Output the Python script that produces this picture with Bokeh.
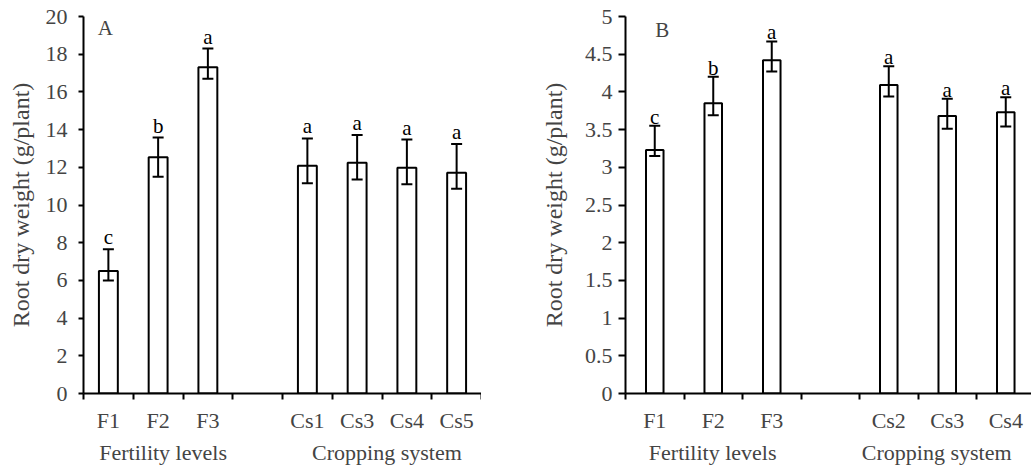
from bokeh.plotting import figure
from bokeh.layouts import row
from bokeh.models import (ColumnDataSource, FixedTicker, Range1d, LinearAxis,
                          Whisker, TeeHead, Label, NumeralTickFormatter)
from bokeh.core.properties import value
from bokeh.embed import file_html
from bokeh.resources import INLINE

# ---------------- data ----------------
# Panel A (empty string = empty slot on the axis)
a_categories = ["F1", "F2", "F3", "", "Cs1", "Cs3", "Cs4", "Cs5"]
a_means = [6.5, 12.53, 17.31, 12.08, 12.24, 11.98, 11.71]
a_upper = [7.65, 13.58, 18.3, 13.53, 13.72, 13.47, 13.23]
a_lower = [6.0, 11.5, 16.7, 11.15, 11.35, 11.1, 10.86]
a_letters = ["c", "b", "a", "a", "a", "a", "a"]
a_yticks = [0, 2, 4, 6, 8, 10, 12, 14, 16, 18, 20]

# Panel B
b_categories = ["F1", "F2", "F3", "", "Cs2", "Cs3", "Cs4"]
b_means = [3.23, 3.85, 4.42, 4.09, 3.68, 3.73]
b_upper = [3.55, 4.2, 4.67, 4.34, 3.91, 3.93]
b_lower = [3.15, 3.69, 4.27, 3.94, 3.51, 3.54]
b_letters = ["c", "b", "a", "a", "a", "a"]
b_yticks = [0, 0.5, 1, 1.5, 2, 2.5, 3, 3.5, 4, 4.5, 5]

group_titles = ["Fertility levels", "Cropping system"]
y_title = "Root dry weight (g/plant)"

FONT = "Liberation Serif"


def panel(cats, means, upper, lower, letters, yticks, ymax, xend, panel_tag,
          tag_pos, group_pos, width, border_left, border_top, border_bottom,
          bar_w, cap, letter_off, ytick_len, ylabel_standoff, title_standoff):
    slots = [i for i, c in enumerate(cats) if c != ""]
    xs = [i + 0.5 for i in slots]
    src = ColumnDataSource(dict(x=xs, top=means, upper=upper, lower=lower,
                                letter=letters))
    p = figure(width=width, height=474, output_backend="svg",
               toolbar_location=None, x_range=Range1d(0, xend),
               y_range=Range1d(0, ymax), min_border_left=border_left,
               min_border_right=0, min_border_top=border_top,
               min_border_bottom=border_bottom)
    p.outline_line_color = None
    p.grid.visible = False
    p.background_fill_color = "white"
    p.border_fill_color = "white"

    p.vbar(x="x", top="top", bottom=0, width=bar_w, source=src,
           fill_color="white", line_color="black", line_width=2)
    w = Whisker(base="x", upper="upper", lower="lower", source=src,
                line_color="black", line_width=2, level="overlay",
                upper_head=TeeHead(size=cap, line_width=2, line_color="black"),
                lower_head=TeeHead(size=cap, line_width=2, line_color="black"))
    p.add_layout(w)
    p.text(x="x", y="upper", text="letter", source=src,
           text_font=value(FONT), text_font_size="21px", text_color="black",
           text_align="center", text_baseline="alphabetic", y_offset=letter_off)

    p.add_layout(Label(x=tag_pos[0], y=tag_pos[1], text=panel_tag,
                       text_font=FONT, text_font_size="21px",
                       text_align="center", text_baseline="alphabetic"))

    # y axis
    ya = p.yaxis[0]
    ya.ticker = FixedTicker(ticks=yticks)
    ya.formatter = NumeralTickFormatter(format="0.[0]")
    ya.axis_line_width = 2
    ya.major_tick_line_width = 2
    ya.major_tick_in = 0
    ya.major_tick_out = ytick_len
    ya.minor_tick_line_color = None
    ya.major_label_text_font = FONT
    ya.major_label_text_font_size = "22px"
    ya.major_label_standoff = ylabel_standoff
    ya.axis_label = y_title
    ya.axis_label_text_font = FONT
    ya.axis_label_text_font_size = "24px"
    ya.axis_label_text_font_style = "normal"
    ya.axis_label_standoff = title_standoff

    # x axis: boundary ticks as minor ticks, category labels at centres
    xa = p.xaxis[0]
    bounds = list(range(len(cats) + 1))
    xa.ticker = FixedTicker(ticks=xs, minor_ticks=bounds)
    xa.major_label_overrides = {x: cats[i] for x, i in zip(xs, slots)}
    xa.axis_line_width = 2
    xa.major_tick_in = 0
    xa.major_tick_out = 0
    xa.major_tick_line_color = None
    xa.minor_tick_in = 0
    xa.minor_tick_out = 6
    xa.minor_tick_line_width = 2
    xa.minor_tick_line_color = "black"
    xa.major_label_text_font = FONT
    xa.major_label_text_font_size = "22px"
    xa.major_label_standoff = 8

    # group titles on a second, line-less axis below the category labels
    ga = LinearAxis(ticker=FixedTicker(ticks=group_pos, minor_ticks=[]))
    ga.major_label_overrides = {g: t for g, t in zip(group_pos, group_titles)}
    ga.axis_line_color = None
    ga.major_tick_line_color = None
    ga.minor_tick_line_color = None
    ga.major_tick_in = 0
    ga.major_tick_out = 0
    ga.major_label_text_font = FONT
    ga.major_label_text_font_size = "22px"
    ga.major_label_standoff = 4
    p.add_layout(ga, "below")
    return p


pa = panel(a_categories, a_means, a_upper, a_lower, a_letters, a_yticks, 20,
           len(a_categories), "A", (0.44, 19.4), [1.6, 6.1],
           width=481, border_left=83, border_top=14, border_bottom=81,
           bar_w=0.38, cap=11, letter_off=-12, ytick_len=5,
           ylabel_standoff=11, title_standoff=9)
pb = panel(b_categories, b_means, b_upper, b_lower, b_letters, b_yticks, 5,
           6.94, "B", (0.63, 4.82), [1.49, 5.32],
           width=550, border_left=144, border_top=16, border_bottom=78,
           bar_w=0.30, cap=11, letter_off=-9, ytick_len=7,
           ylabel_standoff=6, title_standoff=15)

layout = row(pa, pb)
open("out.html", "w").write(file_html(layout, INLINE))
